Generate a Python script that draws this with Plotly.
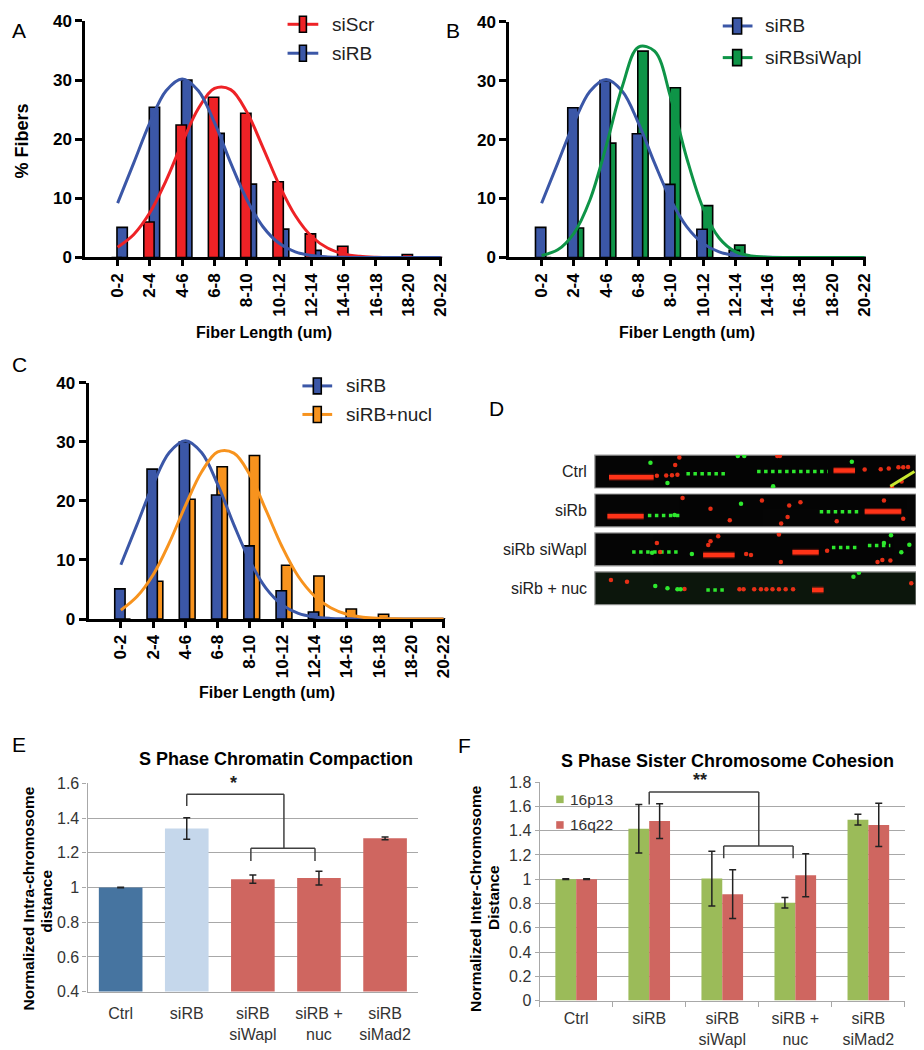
import plotly.graph_objects as go

W, H = 924, 1050
FONT = "Liberation Sans, Arial, sans-serif"
X_SHIFT, Y_SHIFT, Y_SCALE = 7.0, 16.0, 0.984


def fx(p):
    return (p - X_SHIFT) / W


def fy(p):
    return 1 - ((p - Y_SHIFT) / Y_SCALE) / H


# ---------------- data: fiber length histograms (A-C) ----------------
bins = ["0-2", "2-4", "4-6", "6-8", "8-10", "10-12", "12-14", "14-16", "16-18", "18-20", "20-22"]
bin_pos = [0, 1, 2, 3, 4, 5, 6, 7, 8, 9, 10]
siScr_pct = [0, 6.0, 22.4, 27.1, 24.4, 12.8, 4.0, 1.9, 0, 0.5, 0]
siRB_pct = [5.1, 25.4, 30.0, 21.0, 12.4, 4.8, 1.2, 0, 0, 0, 0]
siRBsiWapl_pct = [0, 5.0, 19.4, 35.0, 28.8, 8.8, 2.1, 0, 0, 0, 0]
siRBnucl_pct = [0, 6.4, 20.3, 25.8, 27.7, 9.1, 7.3, 1.7, 0.8, 0, 0]

# fitted curves at half-bin steps
fit_x = [0, 0.5, 1, 1.5, 2, 2.5, 3, 3.5, 4, 4.5, 5, 5.5, 6, 6.5, 7, 7.5, 8, 8.5, 9, 9.5, 10]
siScr_fit = [1.75, 3.9, 7.6, 13.0, 19.4, 25.2, 28.6, 28.4, 24.6, 18.6, 12.3, 7.1, 3.6, 1.6, 0.6, 0.2, 0.05, 0, 0, 0, 0]
siRB_fit = [9.2, 16.0, 22.8, 28.2, 30.2, 28.2, 22.8, 16.0, 9.8, 5.2, 2.4, 0.95, 0.33, 0.1, 0.03, 0, 0, 0, 0, 0, 0]
siRBsiWapl_fit = [0.35, 1.3, 4.1, 9.8, 18.9, 29.0, 35.7, 35.0, 27.1, 16.8, 8.4, 3.3, 1.0, 0.26, 0.05, 0, 0, 0, 0, 0, 0]
siRBnucl_fit = [1.5, 3.8, 7.5, 12.9, 19.2, 24.9, 28.3, 28.1, 24.4, 18.4, 12.2, 7.2, 3.9, 1.9, 0.8, 0.3, 0.1, 0.03, 0, 0, 0]

RED, BLUE, GREEN, ORANGE = "#EE2226", "#3B57A7", "#0E9447", "#F7931E"

# ---------------- data: E ----------------
e_cats = ["Ctrl", "siRB", "siRB<br>siWapl", "siRB +<br>nuc", "siRB<br>siMad2"]
e_vals = [1.0, 1.34, 1.048, 1.054, 1.283]
e_err = [0.002, 0.062, 0.024, 0.04, 0.008]
e_colors = ["#4674A0", "#C5D7EB", "#CF6660", "#CF6660", "#CF6660"]

# ---------------- data: F ----------------
f_cats = ["Ctrl", "siRB", "siRB<br>siWapl", "siRB +<br>nuc", "siRB<br>siMad2"]
f_16p13 = [1.0, 1.416, 1.005, 0.806, 1.490]
f_16p13_err = [0.003, 0.2, 0.226, 0.044, 0.044]
f_16q22 = [1.0, 1.479, 0.877, 1.033, 1.447]
f_16q22_err = [0.003, 0.143, 0.2, 0.177, 0.178]
F_GREEN, F_RED = "#9BBB59", "#CF6660"

# ---------------- data: D (fiber images, strip-local coords 0-100 x 0-10) ----------------
fiber_labels = ["Ctrl", "siRb", "siRb siWapl", "siRb + nuc"]
# Ctrl
s1_red_runs = [(4.4, 18.3, 3.3), (74.3, 81.0, 5.3)]
s1_green_runs = [(28.5, 41.0, 4.3), (50.5, 72.5, 5.0)]
s1_red_u = [19.3, 22.2, 24.0, 25.7, 26.3, 25.0, 56.8, 57.6, 84, 89, 91.5, 94.5, 96.0, 97.5, 92.5, 95.5]
s1_red_v = [3.7, 3.8, 3.9, 4.0, 9.3, 7.0, 9.7, 9.7, 5.6, 5.7, 5.9, 6.3, 6.3, 6.4, 0.3, 2.0]
s1_green_u = [17.3, 22.6, 44.5, 46.5, 55.5, 80.0]
s1_green_v = [7.7, 1.5, 9.7, 9.7, 0.5, 8.0]
s1_diag_u = [92.0, 99.5]
s1_diag_v = [0.5, 5.0]
# siRb
s2_red_runs = [(3.9, 15.2, 3.2), (84.0, 95.4, 4.7)]
s2_green_runs = [(16.5, 27.0, 3.5), (70.0, 82.0, 4.6)]
s2_red_u = [27.3, 64.0, 75.3, 42, 52, 60, 36, 90, 60.5, 96, 58]
s2_red_v = [8.8, 7.5, 1.7, 2.0, 8.0, 3.0, 5.5, 8.0, 6.5, 2.5, 1.0]
s2_green_u = [45.5, 24.8]
s2_green_v = [7.0, 3.6]
# siRb siWapl
s3_red_runs = [(33.7, 43.5, 3.3), (61.5, 69.7, 4.1)]
s3_green_runs = [(11.6, 26.0, 4.2), (73.8, 81.5, 5.6), (85.0, 92.0, 6.2)]
s3_red_u = [20.3, 47.1, 48.6, 72.3, 88.0, 89.5, 57.9, 38.4, 35.3, 19.3, 57.3, 92.0, 36.0]
s3_red_v = [4.2, 3.6, 3.3, 4.6, 1.2, 1.8, 1.2, 9.0, 6.3, 6.9, 9.5, 1.6, 7.5]
s3_green_u = [17.8, 30.2, 90.0, 92.2, 95.4, 97.9]
s3_green_v = [4.0, 3.6, 6.9, 9.3, 4.1, 6.4]
# siRb + nuc
s4_red_runs = [(67.6, 71.2, 4.5)]
s4_green_runs = [(34.7, 40.4, 4.5)]
s4_red_u = [27.9, 45.0, 46.3, 49.6, 51.7, 53.4, 55.3, 57.3, 59.4, 61.7, 98.5, 5.0, 10.0]
s4_red_v = [4.8, 4.7, 4.7, 4.7, 4.7, 4.7, 4.7, 4.7, 4.7, 4.7, 6.5, 7.5, 7.0]
s4_green_u = [18.8, 22.6, 25.7, 26.7, 80.5, 82.2]
s4_green_v = [5.7, 5.0, 4.7, 4.7, 8.5, 9.7]

strips = [
    (s1_red_runs, s1_green_runs, s1_red_u, s1_red_v, s1_green_u, s1_green_v),
    (s2_red_runs, s2_green_runs, s2_red_u, s2_red_v, s2_green_u, s2_green_v),
    (s3_red_runs, s3_green_runs, s3_red_u, s3_red_v, s3_green_u, s3_green_v),
    (s4_red_runs, s4_green_runs, s4_red_u, s4_red_v, s4_green_u, s4_green_v),
]
strip_px = [(455, 488), (494, 527), (533, 566), (572, 605)]
strip_bg = ["#050505", "#050505", "#050505", "#0c160c"]

fig = go.Figure()

# ---------------- histograms ----------------
hist_panels = [
    ("", siScr_pct, siRB_pct, siScr_fit, siRB_fit, RED, BLUE),
    ("2", siRB_pct, siRBsiWapl_pct, siRB_fit, siRBsiWapl_fit, BLUE, GREEN),
    ("3", siRB_pct, siRBnucl_pct, siRB_fit, siRBnucl_fit, BLUE, ORANGE),
]
for suf, front, back, ffit, bfit, fc, bc in hist_panels:
    xa, ya = "x" + suf, "y" + suf
    fig.add_trace(go.Bar(x=bin_pos, y=back, width=0.32, offset=-0.02, xaxis=xa, yaxis=ya,
                         marker=dict(color=bc, line=dict(color="black", width=1.6)), showlegend=False))
    fig.add_trace(go.Bar(x=bin_pos, y=front, width=0.32, offset=-0.19, xaxis=xa, yaxis=ya,
                         marker=dict(color=fc, line=dict(color="black", width=1.6)), showlegend=False))
    fig.add_trace(go.Scatter(x=fit_x, y=ffit, mode="lines", xaxis=xa, yaxis=ya,
                             line=dict(color=fc, width=3, shape="spline"), showlegend=False))
    fig.add_trace(go.Scatter(x=fit_x, y=bfit, mode="lines", xaxis=xa, yaxis=ya,
                             line=dict(color=bc, width=3, shape="spline"), showlegend=False))

hist_x_common = dict(range=[-1, 10.05], tickmode="array", tickvals=bin_pos, ticktext=bins, tickangle=-90,
                     ticks="outside", ticklen=6, tickwidth=2.5, tickcolor="black", showline=True,
                     linewidth=3, linecolor="black", showgrid=False, zeroline=False,
                     tickfont=dict(family=FONT, size=17, color="black", weight="bold"))
hist_y_common = dict(range=[0, 40], tickmode="array", tickvals=[0, 10, 20, 30, 40], ticks="outside",
                     ticklen=7, tickwidth=2.5, tickcolor="black", showline=True, linewidth=3,
                     linecolor="black", showgrid=False, zeroline=False,
                     tickfont=dict(family=FONT, size=17, color="black", weight="bold"))

fig.update_layout(
    xaxis=dict(domain=[fx(85), fx(445)], anchor="y", **hist_x_common),
    yaxis=dict(domain=[fy(257), fy(20)], anchor="x", **hist_y_common),
    xaxis2=dict(domain=[fx(512.7), fx(872.5)], anchor="y2", **hist_x_common),
    yaxis2=dict(domain=[fy(257), fy(20.7)], anchor="x2", **hist_y_common),
    xaxis3=dict(domain=[fx(88.3), fx(448)], anchor="y3", **hist_x_common),
    yaxis3=dict(domain=[fy(619.3), fy(382.7)], anchor="x3", **hist_y_common),
)

# ---------------- E ----------------
fig.add_trace(go.Bar(x=e_cats, y=e_vals, width=0.66, xaxis="x4", yaxis="y4",
                     marker=dict(color=e_colors, line=dict(width=0)),
                     error_y=dict(type="data", array=e_err, color="#222", thickness=1.5, width=3.5),
                     showlegend=False))

# ---------------- F ----------------
fig.add_trace(go.Bar(x=f_cats, y=f_16p13, width=0.285, offset=-0.285, xaxis="x5", yaxis="y5",
                     marker=dict(color=F_GREEN, line=dict(width=0)),
                     error_y=dict(type="data", array=f_16p13_err, color="#222", thickness=1.5, width=3.5),
                     showlegend=False))
fig.add_trace(go.Bar(x=f_cats, y=f_16q22, width=0.285, offset=0, xaxis="x5", yaxis="y5",
                     marker=dict(color=F_RED, line=dict(width=0)),
                     error_y=dict(type="data", array=f_16q22_err, color="#222", thickness=1.5, width=3.5),
                     showlegend=False))

grey = "#a8a8a8"
small_font = dict(family=FONT, size=16, color="#333")
fig.update_layout(
    xaxis4=dict(domain=[fx(87.3), fx(420.7)], anchor="y4", type="category", showline=True, linecolor=grey,
                linewidth=1.3, ticks="", tickfont=small_font, ticklabelstandoff=7, showgrid=False),
    yaxis4=dict(domain=[fy(992.7), fy(784)], anchor="x4", range=[0.4, 1.6], dtick=0.2, showgrid=True,
                gridcolor=grey, gridwidth=1.3, showline=True, linecolor=grey, linewidth=1.3, ticks="outside",
                ticklen=4, tickcolor=grey, tickfont=small_font, zeroline=False),
    xaxis5=dict(domain=[fx(543.3), fx(911.7)], anchor="y5", type="category", showline=True, linecolor=grey,
                linewidth=1.3, ticks="outside", tickson="boundaries", ticklen=5, tickcolor=grey,
                tickfont=small_font, ticklabelstandoff=3, showgrid=False),
    yaxis5=dict(domain=[fy(1001.7), fy(782.7)], anchor="x5", range=[0, 1.8], dtick=0.2, showgrid=True,
                gridcolor=grey, gridwidth=1.3, showline=True, linecolor=grey, linewidth=1.3, ticks="outside",
                ticklen=4, tickcolor=grey, tickfont=small_font, zeroline=False),
)

# ---------------- D strips ----------------
RED_F, GREEN_F = "#ff3318", "#2ee82e"
for i, (rruns, gruns, ru, rv, gu, gv) in enumerate(strips):
    n = 6 + i
    xa, ya = "x%d" % n, "y%d" % n
    top, bot = strip_px[i]
    fig.update_layout(**{
        "xaxis%d" % n: dict(domain=[fx(599), fx(923)], anchor=ya, range=[0, 100], visible=False, fixedrange=True),
        "yaxis%d" % n: dict(domain=[fy(bot), fy(top)], anchor=xa, range=[0, 10], visible=False, fixedrange=True),
    })
    fig.add_shape(type="rect", xref=xa + " domain", yref=ya + " domain", x0=0, x1=1, y0=0, y1=1,
                  fillcolor=strip_bg[i], line=dict(color="#9a9a9a", width=1.2), layer="below")
    for (u0, u1, v) in rruns:
        fig.add_trace(go.Scatter(x=[u0, u1], y=[v, v], mode="lines", xaxis=xa, yaxis=ya,
                                 line=dict(color="rgba(255,40,20,0.3)", width=7), showlegend=False))
        fig.add_trace(go.Scatter(x=[u0, u1], y=[v, v], mode="lines", xaxis=xa, yaxis=ya,
                                 line=dict(color=RED_F, width=4.5), showlegend=False))
    for (u0, u1, v) in gruns:
        fig.add_trace(go.Scatter(x=[u0, u1], y=[v, v], mode="lines", xaxis=xa, yaxis=ya,
                                 line=dict(color=GREEN_F, width=3.5, dash="dot"), showlegend=False))
    fig.add_trace(go.Scatter(x=ru, y=rv, mode="markers", xaxis=xa, yaxis=ya,
                             marker=dict(color=RED_F, size=4.5, line=dict(width=0)), opacity=0.9, showlegend=False))
    fig.add_trace(go.Scatter(x=gu, y=gv, mode="markers", xaxis=xa, yaxis=ya,
                             marker=dict(color=GREEN_F, size=4.5, line=dict(width=0)), showlegend=False))
    if i == 0:
        fig.add_trace(go.Scatter(x=s1_diag_u, y=s1_diag_v, mode="lines", xaxis=xa, yaxis=ya,
                                 line=dict(color="#c8e830", width=3), showlegend=False))

annotations = []
shapes = []


def ann(text, px, py, xa="center", ya="middle", **kw):
    d = dict(text=text, x=fx(px), y=fy(py), xref="paper", yref="paper", xanchor=xa, yanchor=ya,
             showarrow=False)
    d.update(kw)
    annotations.append(d)


for i, lab in enumerate(fiber_labels):
    top, bot = strip_px[i]
    ann(lab, 593, (top + bot) / 2, xa="right", font=dict(family=FONT, size=16, color="#222"))

# panel letters (kept inside the page edges)
letter_font = dict(family=FONT, size=21, color="black")
annotations.append(dict(text="A", x=0.002, y=1.0, xref="paper", yref="paper", xanchor="left", yanchor="top",
                        showarrow=False, font=letter_font))
annotations.append(dict(text="B", x=fx(456), y=1.0, xref="paper", yref="paper", xanchor="center", yanchor="top",
                        showarrow=False, font=letter_font))
for lab, py in [("C", 364), ("E", 745)]:
    annotations.append(dict(text=lab, x=0.002, y=fy(py), xref="paper", yref="paper", xanchor="left",
                            yanchor="middle", showarrow=False, font=letter_font))
for lab, px, py in [("D", 500, 408), ("F", 467, 746)]:
    ann(lab, px, py, font=letter_font)

bold16 = dict(family=FONT, size=16, color="black", weight="bold")
ann("% Fibers", 21, 140, textangle=-90, font=dict(family=FONT, size=18, color="black", weight="bold"))
for cx, cy in [(265, 332), (692, 332), (268, 693)]:
    ann("Fiber Length (um)", cx, cy, font=bold16)

# histogram legends (line with bar glyph)
hist_legends = [
    ((289, 320, 301, 308, 332), [(23.3, "siScr", RED), (52.3, "siRB", BLUE)]),
    ((728, 758, 738, 747, 769), [(25.0, "siRB", BLUE), (56.7, "siRBsiWapl", GREEN)]),
    ((304, 334, 315, 323, 346), [(385.7, "siRB", BLUE), (414.3, "siRB+nucl", ORANGE)]),
]
for (l0, l1, r0, r1, tx), entries in hist_legends:
    for (py, name, col) in entries:
        shapes.append(dict(type="line", xref="paper", yref="paper", x0=fx(l0), x1=fx(l1), y0=fy(py), y1=fy(py),
                           line=dict(color=col, width=3)))
        shapes.append(dict(type="rect", xref="paper", yref="paper", x0=fx(r0), x1=fx(r1), y0=fy(py + 8),
                           y1=fy(py - 8), fillcolor=col, line=dict(color="black", width=1.6)))
        ann(name, tx, py, xa="left", font=dict(family=FONT, size=19, color="#222"))

# E / F titles
title_font = dict(family=FONT, size=18, color="black", weight="bold")
ann("S Phase Chromatin Compaction", 277, 760, font=title_font)
ann("S Phase Sister Chromosome Cohesion", 733, 762, font=title_font)
ytitle_font = dict(family=FONT, size=15.5, color="black", weight="bold")
for txt, px, py in [("Normalized Intra-chromosome", 27.5, 899), ("distance", 45, 902),
                    ("Normalized Inter-Chromosome", 478, 899), ("Distance", 496, 898)]:
    ann(txt, px, py, textangle=-90, font=ytitle_font)

# significance brackets
br = dict(color="#404040", width=1.5)
for (x0, y0, x1, y1) in [(1, 1.47, 1, 1.537), (1, 1.537, 2.47, 1.537), (2.47, 1.537, 2.47, 1.226),
                         (1.97, 1.226, 2.94, 1.226), (1.97, 1.226, 1.97, 1.153), (2.94, 1.226, 2.94, 1.153)]:
    shapes.append(dict(type="line", xref="x4", yref="y4", x0=x0, x1=x1, y0=y0, y1=y1, line=br))
for (x0, y0, x1, y1) in [(1, 1.616, 1, 1.718), (1, 1.718, 2.5, 1.718), (2.5, 1.718, 2.5, 1.274),
                         (2.02, 1.274, 2.97, 1.274), (2.02, 1.274, 2.02, 1.173), (2.97, 1.274, 2.97, 1.173)]:
    shapes.append(dict(type="line", xref="x5", yref="y5", x0=x0, x1=x1, y0=y0, y1=y1, line=br))
annotations.append(dict(text="*", x=1.7, y=1.535, xref="x4", yref="y4", xanchor="center", yanchor="bottom",
                        showarrow=False, font=dict(family=FONT, size=18, color="#222", weight="bold")))
annotations.append(dict(text="**", x=1.7, y=1.715, xref="x5", yref="y5", xanchor="center", yanchor="bottom",
                        showarrow=False, font=dict(family=FONT, size=18, color="#222", weight="bold")))

# F legend
for py, name, col in [(800, "16p13", F_GREEN), (825.7, "16q22", F_RED)]:
    shapes.append(dict(type="rect", xref="paper", yref="paper", x0=fx(560), x1=fx(567.5), y0=fy(py + 3.8),
                       y1=fy(py - 3.8), fillcolor=col, line=dict(width=0)))
    ann(name, 571.5, py, xa="left", font=dict(family=FONT, size=15.5, color="#333"))

fig.update_layout(
    width=W, height=H, margin=dict(l=0, r=0, t=0, b=0), autosize=False,
    paper_bgcolor="white", plot_bgcolor="white", barmode="overlay", showlegend=False,
    annotations=annotations, shapes=list(fig.layout.shapes) + shapes,
    font=dict(family=FONT),
)

fig.write_html("out.html")
